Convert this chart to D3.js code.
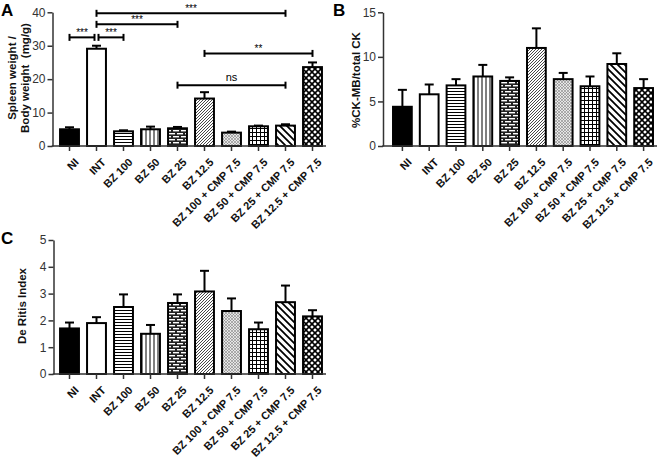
<!DOCTYPE html>
<html><head><meta charset="utf-8">
<script src="https://cdn.jsdelivr.net/npm/d3@7"></script>
<style>
body{margin:0;background:#fff;}
svg{display:block;font-family:"Liberation Sans",Arial,sans-serif;}
</style></head>
<body>
<svg id="chart" width="660" height="464"></svg>
<script>
const categories = ["NI","INT","BZ 100","BZ 50","BZ 25","BZ 12.5","BZ 100 + CMP 7.5","BZ 50 + CMP 7.5","BZ 25 + CMP 7.5","BZ 12.5 + CMP 7.5"];
const patterns = ["solid","white","hlines","vlines","brick","finehatch","dots","grid","widediag","diamond"];

const spleenMean = [5.0, 29.1, 4.4, 5.0, 5.3, 14.2, 4.0, 5.9, 6.1, 23.6];
const spleenSem  = [0.6, 0.9, 0.3, 0.8, 0.4, 1.9, 0.3, 0.2, 0.4, 1.4];
const spleenTicks = [0,10,20,30,40];

const ckMean = [4.4, 5.8, 6.8, 7.8, 7.3, 11.0, 7.5, 6.7, 9.2, 6.5];
const ckSem  = [1.9, 1.1, 0.7, 1.3, 0.4, 2.2, 0.7, 1.1, 1.2, 1.0];
const ckTicks = [0,5,10,15];

const deRitisMean = [1.7, 1.9, 2.5, 1.5, 2.65, 3.08, 2.35, 1.67, 2.68, 2.15];
const deRitisSem  = [0.22, 0.22, 0.47, 0.33, 0.32, 0.77, 0.47, 0.25, 0.62, 0.23];
const deRitisTicks = [0,1,2,3,4,5];

// significance brackets for panel A
const sigFrom  = [0, 1, 1, 1, 5, 4];
const sigTo    = [1, 2, 4, 8, 9, 8];
const sigLevel = [32.5, 32.5, 36.4, 39.7, 27.7, 18.2];
const sigLabel = ["***","***","***","***","**","ns"];

const svg = d3.select("#chart");
const defs = svg.append("defs");

function pat(id,w,h,draw){
  const p = defs.append("pattern").attr("id",id).attr("patternUnits","userSpaceOnUse").attr("width",w).attr("height",h);
  p.append("rect").attr("width",w).attr("height",h).attr("fill","#fff");
  draw(p);
}
pat("hlines",4,3,p=>p.append("line").attr("x1",0).attr("x2",4).attr("y1",1.5).attr("y2",1.5).attr("stroke","#000").attr("stroke-width",1));
pat("vlines",4,4,p=>p.append("line").attr("x1",2).attr("x2",2).attr("y1",0).attr("y2",4).attr("stroke","#000").attr("stroke-width",1));
pat("brick",8,6,p=>{
  p.append("rect").attr("width",8).attr("height",6).attr("fill","#222");
  p.append("rect").attr("x",1).attr("y",1).attr("width",6).attr("height",1.4).attr("fill","#fff");
  p.append("rect").attr("x",5).attr("y",4).attr("width",3).attr("height",1.4).attr("fill","#fff");
  p.append("rect").attr("x",0).attr("y",4).attr("width",3).attr("height",1.4).attr("fill","#fff");
});
pat("finehatch",3,3,p=>{
  p.append("path").attr("d","M0,3L3,0M-1,1L1,-1M2,4L4,2").attr("stroke","#333").attr("stroke-width",0.9);
});
pat("dots",3,3,p=>{
  p.append("rect").attr("width",3).attr("height",3).attr("fill","#e6e6e6");
  p.append("circle").attr("cx",1).attr("cy",1).attr("r",0.7).attr("fill","#444");
  p.append("circle").attr("cx",2.5).attr("cy",2.5).attr("r",0.5).attr("fill","#777");
});
pat("grid",4,4,p=>{
  p.append("path").attr("d","M0,0.5H4M0.5,0V4").attr("stroke","#000").attr("stroke-width",1);
});
pat("widediag",7,7,p=>{
  p.append("path").attr("d","M0,0L7,7M-1,6L1,8M6,-1L8,1").attr("stroke","#000").attr("stroke-width",1.8);
});
pat("diamond",6,6,p=>{
  p.append("path").attr("d","M0,0L6,6M6,0L0,6").attr("stroke","#000").attr("stroke-width",1.6);
});

function fillFor(p){
  if(p==="solid") return "#000";
  if(p==="white") return "#fff";
  return "url(#"+p+")";
}

function panel(opt){
  const g = svg.append("g");
  const x = d3.scaleBand().domain(categories).range([opt.x0, opt.x1]).paddingInner(0.3).paddingOuter(0.15);
  const y = d3.scaleLinear().domain([0, opt.ymax]).range([opt.yBottom, opt.yTop]);
  const bw = x.bandwidth();
  g.selectAll("rect.bar").data(categories).join("rect")
    .attr("x", d=>x(d)).attr("width", bw)
    .attr("y", (d,i)=>y(opt.mean[i])).attr("height",(d,i)=>y(0)-y(opt.mean[i]))
    .attr("fill",(d,i)=>fillFor(patterns[i]))
    .attr("stroke","#000").attr("stroke-width",2);
  const eb = g.selectAll("g.eb").data(categories).join("g");
  eb.append("line")
    .attr("x1",d=>x(d)+bw/2).attr("x2",d=>x(d)+bw/2)
    .attr("y1",(d,i)=>y(opt.mean[i])).attr("y2",(d,i)=>y(opt.mean[i]+opt.sem[i]))
    .attr("stroke","#000").attr("stroke-width",2);
  eb.append("line")
    .attr("x1",d=>x(d)+bw/2-4.5).attr("x2",d=>x(d)+bw/2+4.5)
    .attr("y1",(d,i)=>y(opt.mean[i]+opt.sem[i])).attr("y2",(d,i)=>y(opt.mean[i]+opt.sem[i]))
    .attr("stroke","#000").attr("stroke-width",2);
  const ya = g.append("g").attr("transform",`translate(${opt.yAxisX},0)`)
    .call(d3.axisLeft(y).tickValues(opt.ticks).tickFormat(d3.format("d")).tickSize(5).tickPadding(2).tickSizeOuter(0));
  ya.select(".domain").attr("stroke","#333").attr("stroke-width",1.5);
  ya.selectAll(".tick line").attr("stroke","#333").attr("stroke-width",1.5);
  ya.selectAll(".tick text").attr("fill","#333").style("font-size","12px").style("font-family","Liberation Sans, Arial, sans-serif");
  const xa = g.append("g").attr("transform",`translate(0,${opt.yBottom})`)
    .call(d3.axisBottom(x).tickSize(5).tickSizeOuter(0).tickPadding(2));
  xa.select(".domain").attr("stroke","#333").attr("stroke-width",1.5)
    .attr("d",`M${opt.yAxisX-0.75},0H${opt.x1}`);
  xa.selectAll(".tick line").attr("stroke","#333").attr("stroke-width",1.5);
  xa.selectAll(".tick text")
    .attr("fill","#111").style("font-size","11px").style("font-weight","bold")
    .style("font-family","Liberation Sans, Arial, sans-serif")
    .attr("text-anchor","end").attr("dy",null)
    .attr("transform","translate(5,12) rotate(-45)");
  const tl = g.append("text").attr("transform",`translate(${opt.titleX},${opt.titleY}) rotate(-90)`)
    .attr("text-anchor","middle").style("font-size","11.5px").style("font-weight","bold").attr("fill","#111");
  opt.title.forEach((t,i)=>tl.append("tspan").attr("x",0).attr("dy",i===0?0:13).attr("xml:space","preserve").text(t));
  svg.append("text").attr("x",opt.letterX).attr("y",opt.letterY).text(opt.letter)
    .style("font-size","17px").style("font-weight","bold").attr("fill","#000");
  return {g,x,y};
}

const A = panel({x0:56,x1:326,yTop:12.3,yBottom:146,ymax:40,yAxisX:52.5,mean:spleenMean,sem:spleenSem,ticks:spleenTicks,
  title:["Spleen weight /","Body weight  (mg/g)"],titleX:16,titleY:78,letter:"A",letterX:1,letterY:16});
const B = panel({x0:389,x1:657,yTop:12.3,yBottom:146,ymax:15,yAxisX:383,mean:ckMean,sem:ckSem,ticks:ckTicks,
  title:["%CK-MB/total CK"],titleX:360,titleY:80,letter:"B",letterX:333,letterY:16});
const C = panel({x0:56,x1:326,yTop:240,yBottom:374,ymax:5,yAxisX:53.5,mean:deRitisMean,sem:deRitisSem,ticks:deRitisTicks,
  title:["De Ritis Index"],titleX:26,titleY:306,letter:"C",letterX:1,letterY:244});

const sg = A.g.append("g");
sigFrom.forEach((f,i)=>{
  const bw = A.x.bandwidth();
  let x1 = A.x(categories[f])+bw/2, x2 = A.x(categories[sigTo[i]])+bw/2;
  if(i===0) x2 -= 2;
  if(i===1) x1 += 2;
  const yy = A.y(sigLevel[i]);
  sg.append("line").attr("x1",x1).attr("x2",x2).attr("y1",yy).attr("y2",yy).attr("stroke","#000").attr("stroke-width",2);
  [x1,x2].forEach(xx=>sg.append("line").attr("x1",xx).attr("x2",xx).attr("y1",yy-3.5).attr("y2",yy+3.5).attr("stroke","#000").attr("stroke-width",2));
  sg.append("text").attr("x",(x1+x2)/2).attr("y",sigLabel[i]==="ns"?yy-4:yy-1.5).attr("text-anchor","middle")
    .style("font-size",sigLabel[i]==="ns"?"11px":"10px").style("font-family","Liberation Sans, Arial, sans-serif")
    .attr("fill","#000").text(sigLabel[i]);
});
</script>
</body></html>
